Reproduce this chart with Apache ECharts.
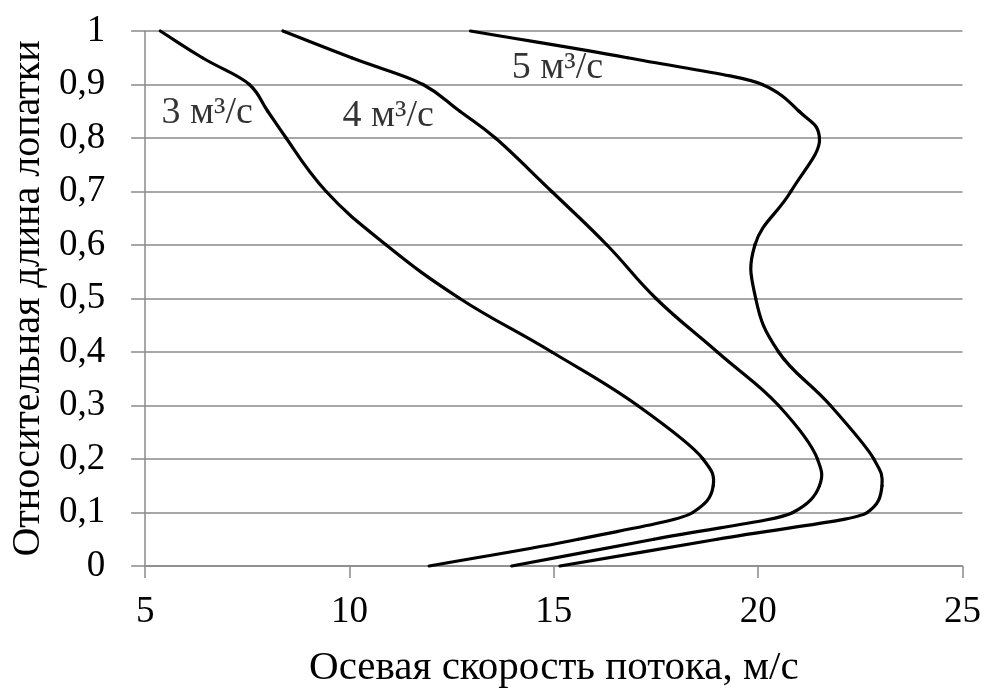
<!DOCTYPE html>
<html>
<head>
<meta charset="utf-8">
<script src="https://cdn.jsdelivr.net/npm/echarts@6/dist/echarts.min.js"></script>
<style>
html,body{margin:0;padding:0;background:#fff;}
#chart{width:984px;height:694px;}
</style>
</head>
<body>
<div id="chart"></div>
<script>
// Relative blade length (y) levels
const heights = [0, 0.05, 0.1, 0.15, 0.2, 0.3, 0.4, 0.5, 0.6, 0.7, 0.8, 0.85, 0.9, 0.95, 1.0];
// Axial flow velocity, m/s, for each flow rate
const flow3 = [11.95, 15.6, 18.4, 18.9, 18.65, 17.05, 14.95, 12.7, 10.9, 9.43, 8.45, 8.0, 7.55, 6.4, 5.37];
const flow4 = [13.97, 17.45, 20.85, 21.5, 21.45, 20.5, 19.0, 17.5, 16.3, 14.95, 13.57, 12.7, 11.8, 10.05, 8.37];
const flow5 = [15.15, 19.0, 22.67, 23.03, 22.83, 21.77, 20.5, 19.94, 19.92, 20.8, 21.5, 21.0, 20.1, 16.8, 12.96];
// Curve labels and their anchor points (data coordinates)
const curveLabels = ['3 м³/с', '4 м³/с', '5 м³/с'];
const labelX = [5.4, 9.83, 13.97];
const labelY = [0.847, 0.842, 0.93];
// Axes
const xMin = 5, xMax = 25, xStep = 5;
const yMin = 0, yMax = 1, yStep = 0.1;
const xTitle = 'Осевая скорость потока, м/с';
const yTitle = 'Относительная длина лопатки';

const FONT = "'Liberation Serif', 'Times New Roman', serif";
const flows = [flow3, flow4, flow5];
const SMOOTH = 0.45;

const chart = echarts.init(document.getElementById('chart'), null, {renderer: 'canvas'});

// Smoothed line through the data points mapped by the chart's own axes
// (cubic Bezier; tangent = bisector of neighbouring chords, handle length
// limited by the shorter adjacent chord so long segments stay straight).
function curveSeries(f) {
  return {
    type: 'custom',
    coordinateSystem: 'cartesian2d',
    data: f.map((x, i) => [x, heights[i]]),
    encode: {x: 0, y: 1},
    animation: false,
    silent: true,
    renderItem: function (params, api) {
      if (params.dataIndex !== 0) return null;
      const pts = f.map((x, i) => api.coord([x, heights[i]]));
      const n = pts.length;
      const seg = [];
      for (let i = 0; i < n - 1; i++) {
        const dx = pts[i + 1][0] - pts[i][0], dy = pts[i + 1][1] - pts[i][1];
        const l = Math.hypot(dx, dy) || 1;
        seg.push({u: [dx / l, dy / l], l: l});
      }
      const tan = pts.map((p, i) => {
        let tx, ty;
        if (i === 0) { tx = seg[0].u[0]; ty = seg[0].u[1]; }
        else if (i === n - 1) { tx = seg[n - 2].u[0]; ty = seg[n - 2].u[1]; }
        else { tx = seg[i - 1].u[0] + seg[i].u[0]; ty = seg[i - 1].u[1] + seg[i].u[1]; }
        const l = Math.hypot(tx, ty) || 1;
        return [tx / l, ty / l];
      });
      const children = [];
      for (let i = 0; i < n - 1; i++) {
        const p1 = pts[i], p2 = pts[i + 1];
        const L = seg[i].l;
        const h1 = SMOOTH * Math.min(L, i > 0 ? seg[i - 1].l : L);
        const h2 = SMOOTH * Math.min(L, i + 1 < n - 1 ? seg[i + 1].l : L);
        children.push({
          type: 'bezierCurve',
          shape: {
            x1: p1[0], y1: p1[1], x2: p2[0], y2: p2[1],
            cpx1: p1[0] + tan[i][0] * h1,
            cpy1: p1[1] + tan[i][1] * h1,
            cpx2: p2[0] - tan[i + 1][0] * h2,
            cpy2: p2[1] - tan[i + 1][1] * h2
          },
          style: {stroke: '#000', lineWidth: 3.2, fill: null, lineCap: 'round', lineJoin: 'round'}
        });
      }
      return {type: 'group', children: children};
    }
  };
}

const series = flows.map(curveSeries);
series.push({
  type: 'scatter',
  data: labelX.map((x, i) => [x, labelY[i]]),
  symbolSize: 0,
  silent: true,
  animation: false,
  label: {
    show: true,
    position: 'right',
    distance: 0,
    formatter: p => curveLabels[p.dataIndex],
    color: '#000',
    fontFamily: FONT,
    fontSize: 38
  }
});

chart.setOption({
  animation: false,
  backgroundColor: '#fff',
  grid: {left: 141.7, right: 21.5, top: 31, bottom: 119.7, containLabel: false},
  xAxis: {
    type: 'value', min: xMin, max: xMax, interval: xStep,
    name: xTitle, nameLocation: 'middle', nameGap: 82,
    nameTextStyle: {color: '#000', fontFamily: FONT, fontSize: 41},
    axisLine: {show: true, lineStyle: {color: '#8a8a8a', width: 1.5}},
    axisTick: {show: true, length: 12, lineStyle: {color: '#8a8a8a', width: 1.5}},
    axisLabel: {color: '#000', fontFamily: FONT, fontSize: 37, margin: 28},
    splitLine: {show: false}
  },
  yAxis: {
    type: 'value', min: yMin, max: yMax, interval: yStep,
    name: yTitle, nameLocation: 'middle', nameGap: 92, nameRotate: 90,
    nameTextStyle: {color: '#000', fontFamily: FONT, fontSize: 40},
    axisLine: {show: true, lineStyle: {color: '#8a8a8a', width: 1.5}},
    axisTick: {show: true, length: 14, lineStyle: {color: '#8a8a8a', width: 1.5}},
    axisLabel: {color: '#000', fontFamily: FONT, fontSize: 37, margin: 40,
      formatter: v => String(Math.round(v * 10) / 10).replace('.', ',')},
    splitLine: {show: true, lineStyle: {color: '#8a8a8a', width: 1.5}}
  },
  series: series
});
</script>
</body>
</html>
